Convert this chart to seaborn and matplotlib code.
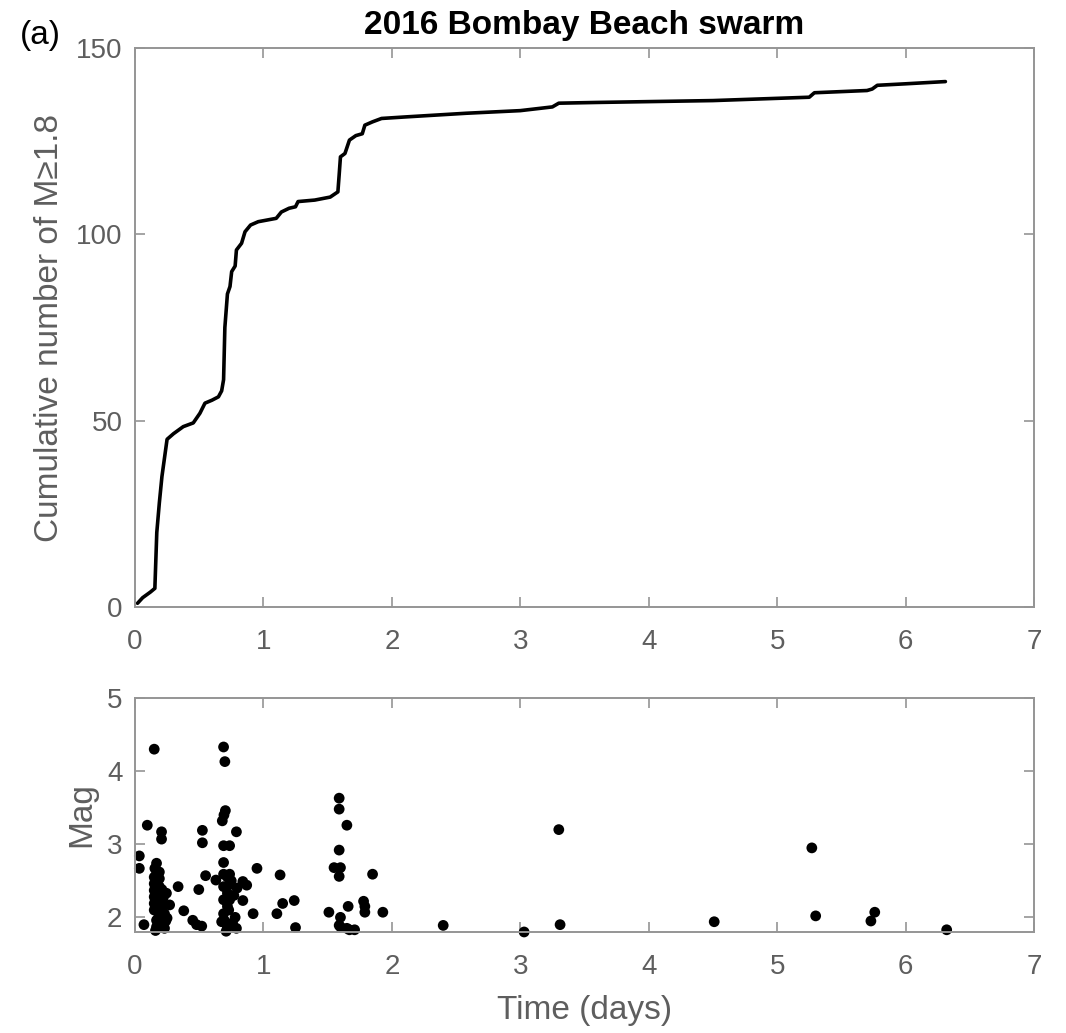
import numpy as np
import pandas as pd
import matplotlib
matplotlib.use("Agg")
import matplotlib.pyplot as plt
import seaborn as sns

# ---- cumulative curve vertices (time in days, cumulative count) ----
cum_time = [0.02, 0.06, 0.12, 0.155, 0.17, 0.19, 0.21, 0.23, 0.25, 0.30, 0.376,
            0.454, 0.506, 0.545, 0.60, 0.65, 0.675, 0.69, 0.70, 0.72, 0.74,
            0.753, 0.78, 0.79, 0.83, 0.857, 0.90, 0.96, 1.10, 1.14, 1.20, 1.25,
            1.27, 1.40, 1.52, 1.58, 1.59, 1.60, 1.635, 1.67, 1.72, 1.77, 1.79,
            1.85, 1.92, 2.10, 2.58, 3.00, 3.25, 3.30, 3.60, 4.50, 5.25, 5.29,
            5.70, 5.74, 5.78, 6.00, 6.31]
cum_count = [1, 2.5, 4, 5, 20, 28, 35, 40, 45, 46.5, 48.4,
             49.4, 52, 54.7, 55.5, 56.4, 58, 61, 75, 84, 86,
             90, 91.5, 95.8, 97.6, 100.7, 102.5, 103.4, 104.3, 106, 107, 107.4,
             108.8, 109.2, 110, 111.4, 116, 120.8, 121.7, 125.3, 126.5, 127, 129.3,
             130.2, 131.1, 131.5, 132.5, 133.2, 134.2, 135.2, 135.4, 135.9, 136.8, 138,
             138.6, 139, 140, 140.4, 141]

# ---- individual events (time in days, magnitude) ----
ev_time = [0.034, 0.034, 0.07, 0.096, 0.15, 0.168, 0.155, 0.15, 0.15, 0.15,
           0.15, 0.15, 0.15, 0.19, 0.19, 0.20, 0.21, 0.22, 0.23, 0.245, 0.27,
           0.25, 0.23, 0.168, 0.168, 0.16, 0.175, 0.18, 0.185, 0.20, 0.21,
           0.22, 0.24, 0.17, 0.19, 0.207, 0.207, 0.336, 0.38, 0.45, 0.48,
           0.497, 0.52, 0.525, 0.525, 0.55, 0.63, 0.68, 0.69, 0.693, 0.704,
           0.70, 0.69, 0.737, 0.69, 0.69, 0.737, 0.69, 0.72, 0.69, 0.737,
           0.72, 0.69, 0.675, 0.72, 0.71, 0.79, 0.75, 0.74, 0.73, 0.70, 0.78,
           0.79, 0.795, 0.84, 0.87, 0.84, 0.92, 0.95, 0.77, 0.76, 0.72,
           1.105, 1.13, 1.15, 1.24, 1.25, 1.51, 1.55, 1.59, 1.59, 1.59,
           1.59, 1.60, 1.60, 1.65, 1.66, 1.59, 1.60, 1.65, 1.67, 1.71, 1.78,
           1.79, 1.79, 1.85, 1.93, 2.40, 3.03, 3.30, 3.31, 4.51, 5.27, 5.30,
           5.73, 5.76, 6.32]
ev_mag = [2.84, 2.67, 1.90, 3.26, 4.30, 2.74, 2.67, 2.55, 2.46, 2.37,
          2.28, 2.19, 2.10, 2.53, 2.42, 2.33, 2.24, 2.15, 2.05, 2.33, 2.17,
          1.99, 1.85, 1.96, 1.87, 1.82, 2.30, 2.12, 2.00, 1.92, 2.38, 2.27,
          1.95, 2.60, 2.62, 3.17, 3.07, 2.42, 2.09, 1.96, 1.90, 2.38, 1.88,
          3.19, 3.02, 2.57, 2.51, 3.32, 4.33, 3.40, 3.46, 4.13, 2.98, 2.98,
          2.75, 2.59, 2.59, 2.42, 2.33, 2.24, 2.24, 2.15, 2.05, 1.94, 1.86,
          1.81, 1.85, 2.50, 2.45, 2.10, 1.95, 2.00, 3.17, 2.40, 2.49, 2.44,
          2.23, 2.05, 2.67, 2.30, 1.92, 2.55,
          2.05, 2.58, 2.19, 2.23, 1.86, 2.07, 2.68, 3.63, 3.48, 2.92,
          2.56, 2.68, 2.00, 3.26, 2.15, 1.89, 1.87, 1.85, 1.83, 1.83, 2.22,
          2.15, 2.07, 2.59, 2.07, 1.89, 1.80, 3.20, 1.90, 1.94, 2.95, 2.02,
          1.95, 2.07, 1.83]

x_ticks = [0, 1, 2, 3, 4, 5, 6, 7]
y_ticks_top = [0, 50, 100, 150]
y_ticks_bot = [2, 3, 4, 5]

title = "2016 Bombay Beach swarm"
panel = "(a)"
ylabel_top = "Cumulative number of M\u22651.8"
ylabel_bot = "Mag"
xlabel = "Time (days)"

curve_df = pd.DataFrame({"t": cum_time, "n": cum_count})
ev_df = pd.DataFrame({"t": ev_time, "m": ev_mag})

sns.set_theme(style="ticks")
plt.rcParams["font.family"] = ["Liberation Sans", "DejaVu Sans"]

tick_col = "#5e5e5e"
spine_col = "#959595"

fig = plt.figure(figsize=(10.66, 10.33), dpi=100)
ax1 = fig.add_axes([0.1266, 0.4124, 0.8434, 0.5411])
ax2 = fig.add_axes([0.1266, 0.0978, 0.8434, 0.2265])

sns.lineplot(data=curve_df, x="t", y="n", ax=ax1, sort=False, estimator=None,
             color="black", linewidth=2.6)
sns.scatterplot(data=ev_df, x="t", y="m", ax=ax2, color="black", s=60,
                edgecolor="none", clip_on=False)

for ax in (ax1, ax2):
    ax.set_xlim(0, 7)
    ax.set_xticks(x_ticks)
    ax.tick_params(direction="in", length=7, width=1.2, color=spine_col,
                   labelsize=20, labelcolor=tick_col, top=True, right=True)
    ax.tick_params(axis="x", pad=16)
    ax.tick_params(axis="y", pad=9)
    for sp in ax.spines.values():
        sp.set_visible(True)
        sp.set_color(spine_col)
        sp.set_linewidth(1.4)
    ax.set_xlabel("")

ax1.set_ylim(0, 150)
ax1.set_yticks(y_ticks_top)
ax1.set_ylabel(ylabel_top, fontsize=24, color=tick_col, labelpad=8)
ax1.set_title(title, fontsize=24, fontweight="bold", color="black", pad=10)

ax2.set_ylim(1.8, 5)
ax2.set_yticks(y_ticks_bot)
ax2.set_ylabel(ylabel_bot, fontsize=24, color=tick_col, labelpad=7)
ax2.set_xlabel(xlabel, fontsize=24, color=tick_col, labelpad=11)

fig.text(0.019, 0.951, panel, fontsize=24, color="black", ha="left", va="bottom")

fig.savefig("out.png", dpi=100)
